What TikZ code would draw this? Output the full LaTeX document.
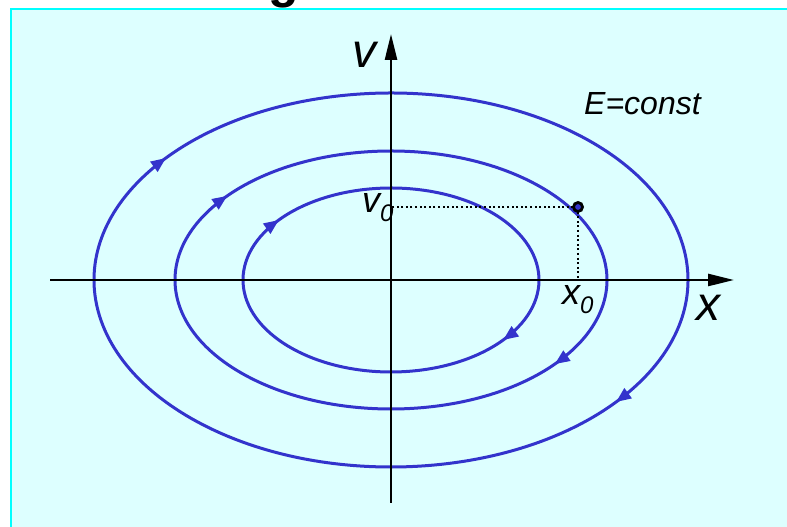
\documentclass[tikz,border=0pt]{standalone}
\usepackage{fontspec}
\setmainfont{Liberation Sans}
\usetikzlibrary{arrows.meta,decorations.markings}
\definecolor{panelbg}{HTML}{DDFFFF}
\definecolor{panelrule}{HTML}{00FFFF}
\definecolor{orbit}{HTML}{3333CC}
\newcommand{\zerolabel}[1]{%
  {\fontsize{36}{36}\selectfont\itshape #1}{\fontsize{24}{24}\selectfont\itshape\raisebox{-9pt}{0}}%
}

\tikzset{
    orbitline/.style={color=orbit, line width=3pt, postaction={decorate},
      decoration={markings,
        mark=at position 0.002 with {\arrow{Triangle[length=15pt,width=12pt]}},
        mark=at position 0.502 with {\arrow{Triangle[length=15pt,width=12pt]}}}},
    axisline/.style={line width=2.5pt, -{Triangle[length=26pt,width=12pt]}},
    dotline/.style={line width=2pt, dash pattern=on 2pt off 2.6pt},
    axislabel/.style={anchor=base west, inner sep=0pt, font=\itshape\fontsize{48}{48}\selectfont}
}

\begin{document}
\begin{tikzpicture}[x=1pt, y=1pt]
    \useasboundingbox (0,0) rectangle (787,527);
    \clip (0,0) rectangle (787,527);
    \node[anchor=base west, inner sep=0pt, font=\bfseries\fontsize{50}{50}\selectfont] (title) at (268,529) {g};
    \fill[panelbg] (11,-10) rectangle (800,518);
    \draw[panelrule, line width=2.5pt] (11,-10) -- (11,518) -- (800,518);

    \coordinate (O) at (391,247);
    \coordinate (xleft) at (50,247);
    \coordinate (xright) at (734,247);
    \coordinate (ybottom) at (391,24);
    \coordinate (ytop) at (391,493);
    \coordinate (P) at (578,320);

    \draw[orbitline] (O) ++(140:297pt and 187pt) arc[start angle=140, delta angle=-360, x radius=297pt, y radius=187pt];
    \draw[orbitline] (O) ++(140:216pt and 129pt) arc[start angle=140, delta angle=-360, x radius=216pt, y radius=129pt];
    \draw[orbitline] (O) ++(140:148pt and 92pt) arc[start angle=140, delta angle=-360, x radius=148pt, y radius=92pt];

    \draw[axisline] (xleft) -- (xright);
    \draw[axisline] (ybottom) -- (ytop);

    \draw[dotline] (P) -- (P -| O);
    \draw[dotline] (P) -- (P |- O);
    \node[circle, draw=black, fill=orbit, line width=2.8pt, minimum size=9pt, inner sep=0pt] (state) at (P) {};

    \node[axislabel] (vlabel) at (352,459) {v};
    \node[axislabel] (xlabel) at (696,206) {x};
    \node[anchor=base west, inner sep=0pt, font=\itshape\fontsize{32}{32}\selectfont] (energy) at (584,412) {E=const};
    \node[anchor=base west, inner sep=0pt] (vzero) at (362,314) {\zerolabel{v}};
    \node[anchor=base west, inner sep=0pt] (xzero) at (562,222) {\zerolabel{x}};
\end{tikzpicture}
\end{document}
